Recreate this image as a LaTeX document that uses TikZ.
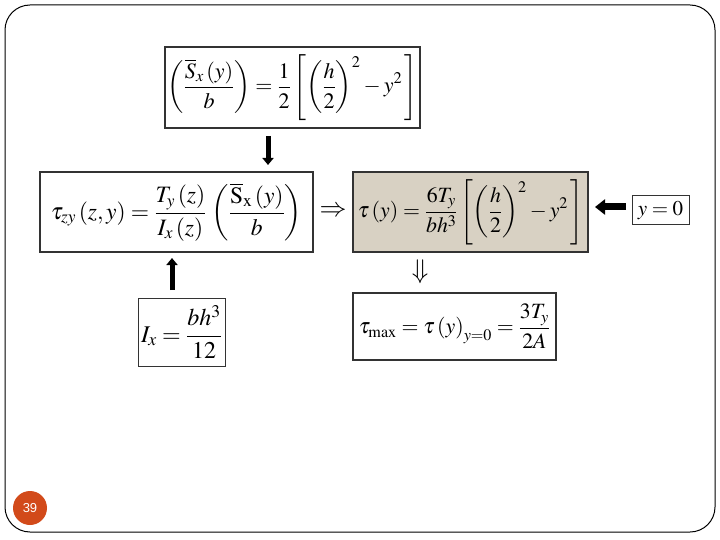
\documentclass[tikz,border=0pt]{standalone}
\usepackage{amsmath}
\usepackage{mathptmx}
\usepackage[no-math]{fontspec}
\setmainfont{Liberation Serif}
\newfontfamily\numfont{Liberation Sans}
\usetikzlibrary{arrows.meta,calc}
\definecolor{tan}{HTML}{D8D1C3}
\definecolor{pagenum}{HTML}{D24A1A}
\tikzset{
  eqbox/.style={draw=black!80, line width=1.1pt, inner sep=0pt, align=center,
    font=\fontsize{22}{26}\selectfont},
  blockarrow/.style={line width=5pt, -{Triangle[width=11pt,length=7pt]}},
  symb/.style={inner sep=0pt, font=\fontsize{27}{30}\selectfont}
}
\begin{document}
\begin{tikzpicture}[x=1pt,y=-1pt]
\useasboundingbox (0,0) rectangle (720,540);
\draw[line width=1pt, rounded corners=25pt] (5,5) rectangle (715,532);
\node[eqbox, minimum width=255pt, minimum height=81pt] (b1) at (292.5,87.5)
  {$\displaystyle\left(\frac{\overline{S}_{x}\left(y\right)}{b}\right)=\frac{1}{2}\left[\left(\frac{h}{2}\right)^{2}-y^{2}\,\right]$};
\node[eqbox, minimum width=273pt, minimum height=80pt,
  font=\fontsize{23.5}{27}\selectfont] (b2) at (176.5,212)
  {$\displaystyle\tau_{zy}\left(z,y\right)=\frac{T_{y}\left(z\right)}{I_{x}\left(z\right)}\,\left(\frac{\overline{\mathrm{S}}_{\mathrm{x}}\left(y\right)}{b}\right)$};
\node[eqbox, fill=tan, minimum width=235pt, minimum height=80pt,
  font=\fontsize{21.8}{26}\selectfont] (b3) at (470.5,212)
  {$\displaystyle\tau\left(y\right)=\frac{6T_{y}}{bh^{3}}\left[\left(\frac{h}{2}\right)^{2}-y^{2}\,\right]$};
\node[eqbox, line width=1pt, minimum width=57pt, minimum height=29pt,
  font=\fontsize{21}{24}\selectfont] (b4) at (660.5,210.5)
  {$y=0$};
\node[eqbox, line width=1pt, minimum width=87pt, minimum height=68pt,
  font=\fontsize{24}{28}\selectfont] (b5) at (181.5,332)
  {$\displaystyle I_{x}=\frac{bh^{3}}{12}$};
\node[eqbox, minimum width=203pt, minimum height=67pt,
  font=\fontsize{21.8}{26}\selectfont] (b6) at (454.5,326.5)
  {$\displaystyle\tau_{\max}=\tau\left(y\right)_{y=0}=\frac{3T_{y}}{2A}$};
\node[symb] (r) at ($(b2.east)!0.5!(b3.west)$) {$\Rightarrow$};
\node[symb] (d) at (420,272) {$\Downarrow$};
\draw[blockarrow] (268,136) -- (268,165);
\draw[blockarrow] (172,290) -- (172,258);
\draw[line width=7pt, -{Triangle[width=15pt,length=10pt]}] (626,207) -- (595,207);
\node[circle, fill=pagenum, minimum size=34pt, inner sep=0pt, text=white,
  font=\numfont\fontsize{13}{15}\selectfont] (pg) at (30,508) {39};
\end{tikzpicture}
\end{document}
